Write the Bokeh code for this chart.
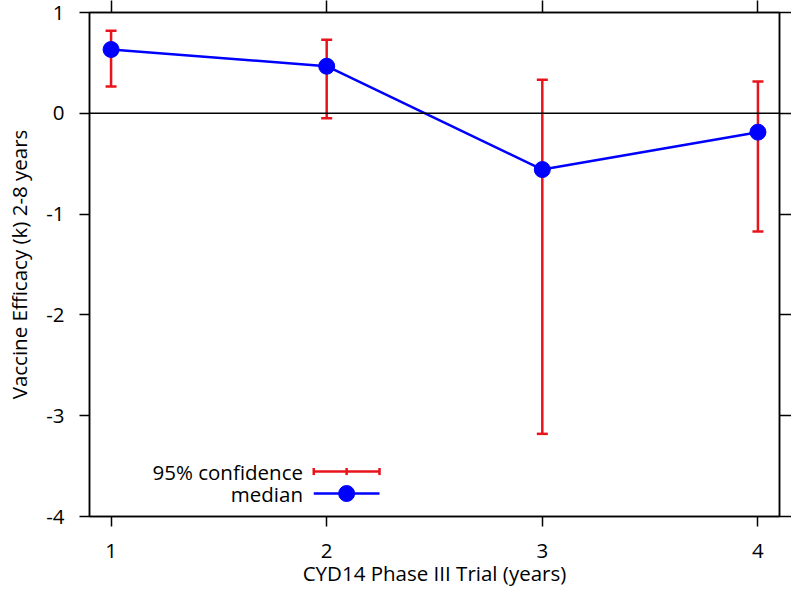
from bokeh.plotting import figure
from bokeh.models import (ColumnDataSource, Range1d, FixedTicker, LinearAxis,
                          Span, Whisker, TeeHead)
from bokeh.core.properties import value
from bokeh.embed import file_html
from bokeh.resources import INLINE

# ---- data ----
trial_year = [1, 2, 3, 4]
median = [0.633, 0.467, -0.558, -0.187]
ci_lower = [0.266, -0.048, -3.18, -1.173]
ci_upper = [0.818, 0.729, 0.332, 0.315]
x_ticks = [1, 2, 3, 4]
y_ticks = [-4, -3, -2, -1, 0, 1]
y_tick_labels = ["-4", "-3", "-2", "-1", "0", "1"]

FONT = "Open Sans"
FS = "20.5px"
RED = "#e8141c"
BLUE = "#0000ff"

src = ColumnDataSource(dict(x=trial_year, m=median, lo=ci_lower, hi=ci_upper))

p = figure(frame_width=690, frame_height=504, output_backend="svg",
           toolbar_location=None, x_range=Range1d(0.9, 4.1), y_range=Range1d(-4, 1),
           min_border_left=89, min_border_top=12, min_border_right=0,
           min_border_bottom=83, background_fill_color="white",
           border_fill_color="white")
p.grid.visible = False
p.outline_line_color = "black"
p.outline_line_width = 1.5


def style_axis(ax, ticks, show_labels, tick_out=10):
    ax.ticker = FixedTicker(ticks=ticks)
    ax.minor_tick_line_color = None
    ax.major_tick_in = 0
    ax.major_tick_out = tick_out
    ax.major_tick_line_color = "black"
    ax.major_tick_line_width = 1.5
    ax.axis_line_color = "black"
    ax.axis_line_width = 1.5
    ax.major_label_text_font = FONT
    ax.axis_label_text_font = FONT
    ax.axis_label_text_font_style = "normal"
    ax.major_label_text_color = "black"
    ax.axis_label_text_color = "black"
    if show_labels:
        ax.major_label_text_font_size = FS
        ax.axis_label_text_font_size = FS
    else:
        ax.major_label_overrides = {t: "" for t in ticks}
        ax.major_label_text_font_size = "0px"
        ax.major_label_standoff = 0


style_axis(p.xaxis[0], x_ticks, True)
style_axis(p.yaxis[0], y_ticks, True)
p.yaxis[0].major_label_overrides = dict(zip(y_ticks, y_tick_labels))
p.xaxis[0].axis_label = "CYD14 Phase III Trial (years)"
p.yaxis[0].axis_label = "Vaccine Efficacy (k) 2-8 years"
p.xaxis[0].major_label_standoff = 17
p.xaxis[0].axis_label_standoff = -2
p.yaxis[0].major_label_standoff = 15
p.yaxis[0].axis_label_standoff = 10

right = LinearAxis()
style_axis(right, y_ticks, False, tick_out=12)
p.add_layout(right, "right")
top = LinearAxis()
style_axis(top, x_ticks, False, tick_out=12)
p.add_layout(top, "above")

p.add_layout(Span(location=0, dimension="width", line_color="black", line_width=1.5))

wh = Whisker(base="x", lower="lo", upper="hi", source=src, line_color=RED,
             line_width=2.5, level="underlay",
             lower_head=TeeHead(size=11, line_color=RED, line_width=2.5),
             upper_head=TeeHead(size=11, line_color=RED, line_width=2.5))
p.add_layout(wh)

p.line("x", "m", source=src, line_color=BLUE, line_width=2.5)
p.scatter("x", "m", source=src, size=16, fill_color=BLUE, line_color=BLUE)

# ---- legend (drawn manually: text right-aligned left of sample) ----
lg_x0, lg_x1 = 1.94, 2.245
lg_xm = (lg_x0 + lg_x1) / 2
lg_y1, lg_y2 = -3.554, -3.772
cap = 0.035
p.segment(x0=[lg_x0], y0=[lg_y1], x1=[lg_x1], y1=[lg_y1], line_color=RED, line_width=2.5)
p.segment(x0=[lg_x0, lg_xm, lg_x1], y0=[lg_y1 - cap] * 3, x1=[lg_x0, lg_xm, lg_x1],
          y1=[lg_y1 + cap] * 3, line_color=RED, line_width=2.5)
p.segment(x0=[lg_x0], y0=[lg_y2], x1=[lg_x1], y1=[lg_y2], line_color=BLUE, line_width=2.5)
p.scatter(x=[lg_xm], y=[lg_y2], size=16, fill_color=BLUE, line_color=BLUE)
p.text(x=[1.89, 1.89], y=[lg_y1, lg_y2], text=["95% confidence", "median"],
       text_font=value(FONT), text_font_size=FS, text_align="right",
       text_baseline="middle", text_color="black")

open("out.html", "w").write(file_html(p, INLINE))
